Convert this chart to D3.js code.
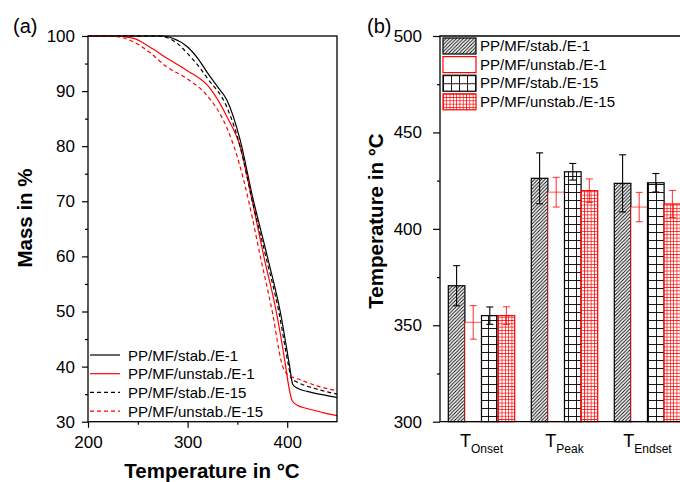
<!DOCTYPE html>
<html>
<head>
<meta charset="utf-8">
<script src="https://cdn.jsdelivr.net/npm/d3@7"></script>
<style>
  body { margin: 0; background: #fff; }
  svg { font-family: "Liberation Sans", Arial, sans-serif; }
  .axis path.domain { display: none; }
  .axis line { stroke: #000; stroke-width: 1.2; }
  .axis text { font-size: 17px; fill: #000; }
</style>
</head>
<body>
<div id="plotdiv"></div>
<script>
// ---- data, panel (a): TGA curves (temperature in °C, mass in %)
var stabE1T   = [200, 275, 285, 300, 312, 320, 330, 339.4, 352.8, 365, 380, 393, 402.5, 405.5, 410, 420, 435, 450];
var stabE1M   = [100, 100, 99.6, 98, 95.5, 93.3, 90.8, 88.4, 81.1, 71, 60, 50, 40, 36.8, 36.1, 35.5, 34.9, 34.4];
var unstabE1T = [200, 225, 245, 262, 279, 299, 322.6, 339.4, 352.8, 365, 376.5, 389, 398.5, 401, 405, 410, 420, 435, 450];
var unstabE1M = [100, 100, 99.6, 98, 96, 93.8, 90.5, 85.4, 79.9, 70, 60, 50, 40, 37, 33.8, 33.0, 32.4, 31.7, 31.1];
var stabE15T  = [200, 272, 282, 292, 300, 312, 320, 339.4, 352.8, 365, 378.5, 391.5, 401.5, 404, 410, 430, 450];
var stabE15M  = [100, 100, 99.5, 98.3, 96.8, 94.3, 92.3, 87.1, 79.9, 70, 60, 50, 40, 37.9, 37.2, 35.9, 35.0];
var unstabE15T = [200, 222, 245, 262, 279, 299, 319, 339, 350, 362, 373, 385, 395.5, 399, 405, 410, 430, 450];
var unstabE15M = [100, 100, 99, 97, 94.4, 92.3, 89.3, 83.5, 78, 69.5, 60, 50, 40, 38.8, 38.1, 37.8, 36.5, 35.6];

var lineNames = ["PP/MF/stab./E-1", "PP/MF/unstab./E-1", "PP/MF/stab./E-15", "PP/MF/unstab./E-15"];

// ---- data, panel (b): characteristic temperatures
var categories = ["Onset", "Peak", "Endset"];
var stabE1Val    = [370.5, 426.2, 423.6];
var stabE1Err    = [10.4, 13.2, 14.8];
var unstabE1Val  = [351.5, 419.0, 411.3];
var unstabE1Err  = [8.7, 7.7, 7.6];
var stabE15Val   = [355.0, 429.6, 423.9];
var stabE15Err   = [4.5, 4.3, 4.8];
var unstabE15Val = [355.0, 419.8, 412.9];
var unstabE15Err = [4.6, 6.1, 7.0];

var xTicksA = [200, 300, 400];
var yTicksA = [30, 40, 50, 60, 70, 80, 90, 100];
var yTicksB = [300, 350, 400, 450, 500];

// ---- canvas
var outerWidth = 680, outerHeight = 482;
var vis = d3.select("#plotdiv").append("svg")
  .attr("width", outerWidth)
  .attr("height", outerHeight);
vis.append("rect").attr("width", outerWidth).attr("height", outerHeight).attr("fill", "#fff");

// patterns for the bars
var defs = vis.append("defs");
var pHatch = defs.append("pattern").attr("id", "hatch")
  .attr("patternUnits", "userSpaceOnUse").attr("width", 3.5).attr("height", 3.5);
pHatch.append("rect").attr("width", 3.5).attr("height", 3.5).attr("fill", "#fff");
pHatch.append("path").attr("d", "M-1,1 L1,-1 M0,3.5 L3.5,0 M2.5,4.5 L4.5,2.5")
  .attr("stroke", "#000").attr("stroke-width", 0.9);

var pGrid = defs.append("pattern").attr("id", "gridBlack")
  .attr("patternUnits", "userSpaceOnUse").attr("width", 8).attr("height", 8);
pGrid.append("rect").attr("width", 8).attr("height", 8).attr("fill", "#fff");
pGrid.append("path").attr("d", "M0,0.5 H8 M0.5,0 V8")
  .attr("stroke", "#000").attr("stroke-width", 0.9);

var pGridR = defs.append("pattern").attr("id", "gridRed")
  .attr("patternUnits", "userSpaceOnUse").attr("width", 3.3).attr("height", 3.3);
pGridR.append("rect").attr("width", 3.3).attr("height", 3.3).attr("fill", "#fff");
pGridR.append("path").attr("d", "M0,0.4 H3.3 M0.4,0 V3.3")
  .attr("stroke", "#ff0000").attr("stroke-width", 0.7);

// ================= panel (a)
var plotL = 88, plotR = 337, plotT = 36, plotB = 421.7;

var xA = d3.scaleLinear().domain([200, 450]).range([plotL, plotR]);
var yA = d3.scaleLinear().domain([30, 100]).range([plotB, plotT]);

var gA = vis.append("g");

gA.append("clipPath").attr("id", "clipA").append("rect")
  .attr("x", plotL).attr("y", plotT - 1).attr("width", plotR - plotL).attr("height", plotB - plotT + 1);

var seriesA = [
  {T: stabE1T, M: stabE1M, color: "#000", dash: null},
  {T: unstabE1T, M: unstabE1M, color: "#ff0000", dash: null},
  {T: stabE15T, M: stabE15M, color: "#000", dash: "4,3"},
  {T: unstabE15T, M: unstabE15M, color: "#ff0000", dash: "4,3"}
];

var line = d3.line()
  .x(function(d) { return xA(d[0]); })
  .y(function(d) { return yA(d[1]); })
  .curve(d3.curveMonotoneX);

gA.append("g").attr("clip-path", "url(#clipA)")
  .selectAll("path").data(seriesA).enter().append("path")
  .attr("d", function(s) { return line(s.T.map(function(t, i) { return [t, s.M[i]]; })); })
  .attr("fill", "none")
  .attr("stroke", function(s) { return s.color; })
  .attr("stroke-width", 1.2)
  .attr("stroke-dasharray", function(s) { return s.dash; });

// axes (a)
gA.append("g").attr("class", "axis")
  .attr("transform", "translate(" + plotL + ",0)")
  .call(d3.axisLeft(yA).tickValues(yTicksA).tickSize(6).tickPadding(7).tickSizeOuter(0));
gA.append("g").attr("class", "axis")
  .attr("transform", "translate(" + plotL + ",0)")
  .call(d3.axisLeft(yA).tickValues([35, 45, 55, 65, 75, 85, 95]).tickSize(3).tickFormat(""));
gA.append("g").attr("class", "axis")
  .attr("transform", "translate(0," + plotB + ")")
  .call(d3.axisBottom(xA).tickValues(xTicksA).tickSize(6).tickPadding(8).tickSizeOuter(0));
gA.append("g").attr("class", "axis")
  .attr("transform", "translate(0," + plotB + ")")
  .call(d3.axisBottom(xA).tickValues([250, 350]).tickSize(3).tickFormat(""));

gA.append("rect")
  .attr("x", plotL).attr("y", plotT).attr("width", plotR - plotL).attr("height", plotB - plotT)
  .attr("fill", "none").attr("stroke", "#000").attr("stroke-width", 1.3);

// legend (a)
var legA = gA.selectAll(".legA").data(seriesA).enter().append("g")
  .attr("transform", function(d, i) { return "translate(90," + (355 + i * 18.7) + ")"; });
legA.append("line").attr("x1", 0).attr("x2", 30)
  .attr("stroke", function(s) { return s.color; })
  .attr("stroke-width", 1.2)
  .attr("stroke-dasharray", function(s) { return s.dash; });
legA.append("text").attr("x", 38).attr("y", 5.5)
  .style("font-size", "15px")
  .text(function(d, i) { return lineNames[i]; });

gA.append("text").attr("x", 13).attr("y", 33).style("font-size", "20px").text("(a)");
gA.append("text").attr("x", 212).attr("y", 478)
  .attr("text-anchor", "middle").style("font-size", "20.5px").style("font-weight", "bold")
  .text("Temperature in °C");
gA.append("text")
  .attr("transform", "translate(32,218) rotate(-90)")
  .attr("text-anchor", "middle").style("font-size", "20.5px").style("font-weight", "bold")
  .text("Mass in %");

// ================= panel (b)
var plotLB = 440, plotRB = 689;
var xB = d3.scaleBand().domain(categories).range([plotLB, plotRB])
  .paddingInner(0.2).paddingOuter(0.1);
var xSub = d3.scaleBand().domain([0, 1, 2, 3]).range([0, xB.bandwidth()]);
var yB = d3.scaleLinear().domain([300, 500]).range([plotB, plotT]);

var seriesB = [
  {vals: stabE1Val, errs: stabE1Err, fill: "url(#hatch)", stroke: "#000", sOp: 1, eColor: "#000"},
  {vals: unstabE1Val, errs: unstabE1Err, fill: "#fff", stroke: "#ff0000", sOp: 0.55, eColor: "#ff0000"},
  {vals: stabE15Val, errs: stabE15Err, fill: "url(#gridBlack)", stroke: "#000", sOp: 1, eColor: "#000"},
  {vals: unstabE15Val, errs: unstabE15Err, fill: "url(#gridRed)", stroke: "#ff0000", sOp: 1, eColor: "#ff0000"}
];

var gB = vis.append("g");

var barData = [];
seriesB.forEach(function(s, si) {
  categories.forEach(function(c, ci) {
    barData.push({c: c, si: si, v: s.vals[ci], e: s.errs[ci], s: s});
  });
});

gB.selectAll("rect.bar").data(barData).enter().append("rect")
  .attr("class", "bar")
  .attr("x", function(d) { return xB(d.c) + xSub(d.si); })
  .attr("y", function(d) { return yB(d.v); })
  .attr("width", xSub.bandwidth())
  .attr("height", function(d) { return plotB - yB(d.v); })
  .attr("fill", function(d) { return d.s.fill; })
  .attr("stroke", function(d) { return d.s.stroke; })
  .attr("stroke-opacity", function(d) { return d.s.sOp; })
  .attr("stroke-width", 1.2);

// error bars
var eb = gB.selectAll("g.err").data(barData).enter().append("g")
  .attr("class", "err")
  .attr("transform", function(d) { return "translate(" + (xB(d.c) + xSub(d.si) + xSub.bandwidth() / 2) + ",0)"; })
  .attr("stroke", function(d) { return d.s.eColor; })
  .attr("stroke-opacity", function(d) { return d.si === 1 || d.si === 3 ? 0.75 : 1; })
  .attr("stroke-width", 1.1);
eb.append("line").attr("x1", 0).attr("x2", 0)
  .attr("y1", function(d) { return yB(d.v + d.e); })
  .attr("y2", function(d) { return yB(d.v - d.e); });
eb.append("line").attr("x1", -3.5).attr("x2", 3.5)
  .attr("y1", function(d) { return yB(d.v + d.e); })
  .attr("y2", function(d) { return yB(d.v + d.e); });
eb.append("line").attr("x1", -3.5).attr("x2", 3.5)
  .attr("y1", function(d) { return yB(d.v - d.e); })
  .attr("y2", function(d) { return yB(d.v - d.e); });

// axes (b)
gB.append("g").attr("class", "axis")
  .attr("transform", "translate(" + plotLB + ",0)")
  .call(d3.axisLeft(yB).tickValues(yTicksB).tickSize(7).tickPadding(11).tickSizeOuter(0));
gB.append("g").attr("class", "axis")
  .attr("transform", "translate(" + plotLB + ",0)")
  .call(d3.axisLeft(yB).tickValues([325, 375, 425, 475]).tickSize(3).tickFormat(""));

gB.append("path")
  .attr("d", "M" + plotRB + "," + plotT + "H" + plotLB + "V" + plotB + "H" + plotRB)
  .attr("fill", "none").attr("stroke", "#000").attr("stroke-width", 1.3);

// category labels with subscripts
var catLab = gB.selectAll("text.cat").data(categories).enter().append("text")
  .attr("class", "cat")
  .attr("x", function(d) { return xB(d) + xB.bandwidth() / 2; })
  .attr("y", 447)
  .attr("text-anchor", "middle");
catLab.append("tspan").style("font-size", "18px").text("T");
catLab.append("tspan").attr("dy", 6).style("font-size", "12px").text(function(d) { return d; });

// legend (b)
var legB = gB.selectAll(".legB").data(seriesB).enter().append("g")
  .attr("transform", function(d, i) { return "translate(443," + (38 + i * 18.6) + ")"; });
legB.append("rect").attr("width", 33).attr("height", 16)
  .attr("fill", function(s) { return s.fill; })
  .attr("stroke", function(s) { return s.stroke; })
  .attr("stroke-width", 1.2);
legB.append("text").attr("x", 37).attr("y", 13)
  .style("font-size", "15px")
  .text(function(d, i) { return lineNames[i]; });

gB.append("text").attr("x", 367).attr("y", 33).style("font-size", "20px").text("(b)");
gB.append("text")
  .attr("transform", "translate(383,221) rotate(-90)")
  .attr("text-anchor", "middle").style("font-size", "20.5px").style("font-weight", "bold")
  .text("Temperature in °C");
</script>
</body>
</html>
